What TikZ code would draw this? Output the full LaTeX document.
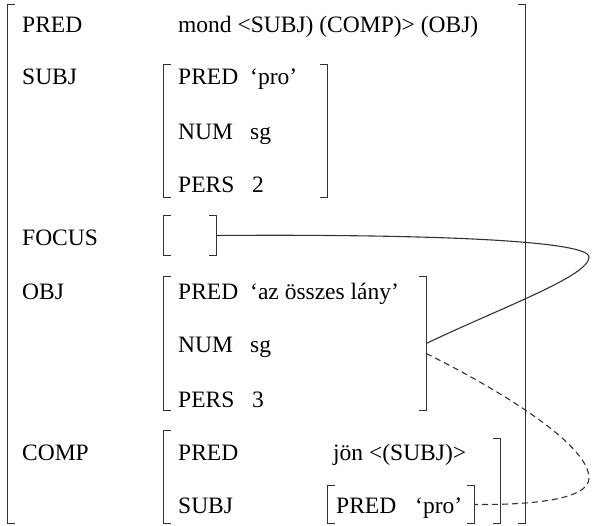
\documentclass[tikz,border=0pt]{standalone}
\usepackage{fontspec}
\setmainfont{Liberation Serif}
\usetikzlibrary{fit}

% square brackets round an f-structure node
\newcommand\fsbox[1]{%
  \draw[brk] ([xshift=7pt]#1.north west) -- (#1.north west) -- (#1.south west) -- ([xshift=7pt]#1.south west);
  \draw[brk] ([xshift=-7pt]#1.north east) -- (#1.north east) -- (#1.south east) -- ([xshift=-7pt]#1.south east);}

\tikzset{
  lbl/.style={anchor=base west, inner sep=0pt, font=\fontsize{23.5}{28}\selectfont},
  fs/.style={inner sep=0pt, draw=none},
  brk/.style={draw=black!80, line width=1.2pt},
  link/.style={draw=black!80, line width=1.1pt},
  ctrl/.style={link, dash pattern=on 6pt off 4pt}
}

\begin{document}
\begin{tikzpicture}[x=1pt, y=-1pt]
\useasboundingbox (0,0) rectangle (592,526);

% f-structure frames
\node[fs, fit={(8,5) (525,523)}] (outer) {};
\node[fs, fit={(164,65) (327,197)}] (subjfs) {};
\node[fs, fit={(164,216) (216,255)}] (focusfs) {};
\node[fs, fit={(164,277) (426,410)}] (objfs) {};
\node[fs, fit={(164,431) (500,523)}] (compfs) {};
\node[fs, fit={(328,486) (474,523)}] (profs) {};

\fsbox{outer}
\fsbox{subjfs}
\fsbox{focusfs}
\fsbox{objfs}
\fsbox{profs}
\draw[brk] ([xshift=7pt]compfs.north west) -- (compfs.north west) -- (compfs.south west) -- ([xshift=7pt]compfs.south west);
\draw[brk] ([xshift=-7pt,yshift=-8pt]compfs.north east) -- ([yshift=-8pt]compfs.north east) -- (compfs.south east) -- ([xshift=-7pt]compfs.south east);

% outer attributes
\node[lbl] (aPred)  at (22,33)  {PRED};
\node[lbl] (vPred)  at (178,33) {mond <SUBJ) (COMP)> (OBJ)};
\node[lbl] (aSubj)  at (22,85)  {SUBJ};
\node[lbl] (aFocus) at (22,246) {FOCUS};
\node[lbl] (aObj)   at (22,300) {OBJ};
\node[lbl] (aComp)  at (22,461) {COMP};

% SUBJ
\node[lbl] (sPred) at (178,85)  {PRED};
\node[lbl] (sPredV) at (250,85) {‘pro’};
\node[lbl] (sNum)  at (178,140) {NUM};
\node[lbl] (sNumV) at (250,140) {sg};
\node[lbl] (sPers) at (178,193) {PERS};
\node[lbl] (sPersV) at (252,193) {2};

% OBJ
\node[lbl] (oPred) at (178,300)  {PRED};
\node[lbl] (oPredV) at (250,300) {‘az összes lány’};
\node[lbl] (oNum)  at (178,353) {NUM};
\node[lbl] (oNumV) at (250,353) {sg};
\node[lbl] (oPers) at (178,408) {PERS};
\node[lbl] (oPersV) at (252,408) {3};

% COMP
\node[lbl] (cPred) at (178,461)  {PRED};
\node[lbl] (cPredV) at (333,461) {jön <(SUBJ)>};
\node[lbl] (cSubj) at (178,513) {SUBJ};
\node[lbl] (pPred) at (336,513) {PRED};
\node[lbl] (pPredV) at (415,513) {‘pro’};

% FOCUS shares its value with OBJ
\draw[link] (focusfs.east) .. controls (420,234) and (589,240) .. (589,257)
  .. controls (589,276) and (505,306) .. (objfs.east);

% control: OBJ is the SUBJ of COMP
\draw[ctrl] ([yshift=-10pt]objfs.east) .. controls (492,386) and (589,443) .. (589,478)
  .. controls (589,500) and (530,505) .. (profs.east);
\end{tikzpicture}
\end{document}
